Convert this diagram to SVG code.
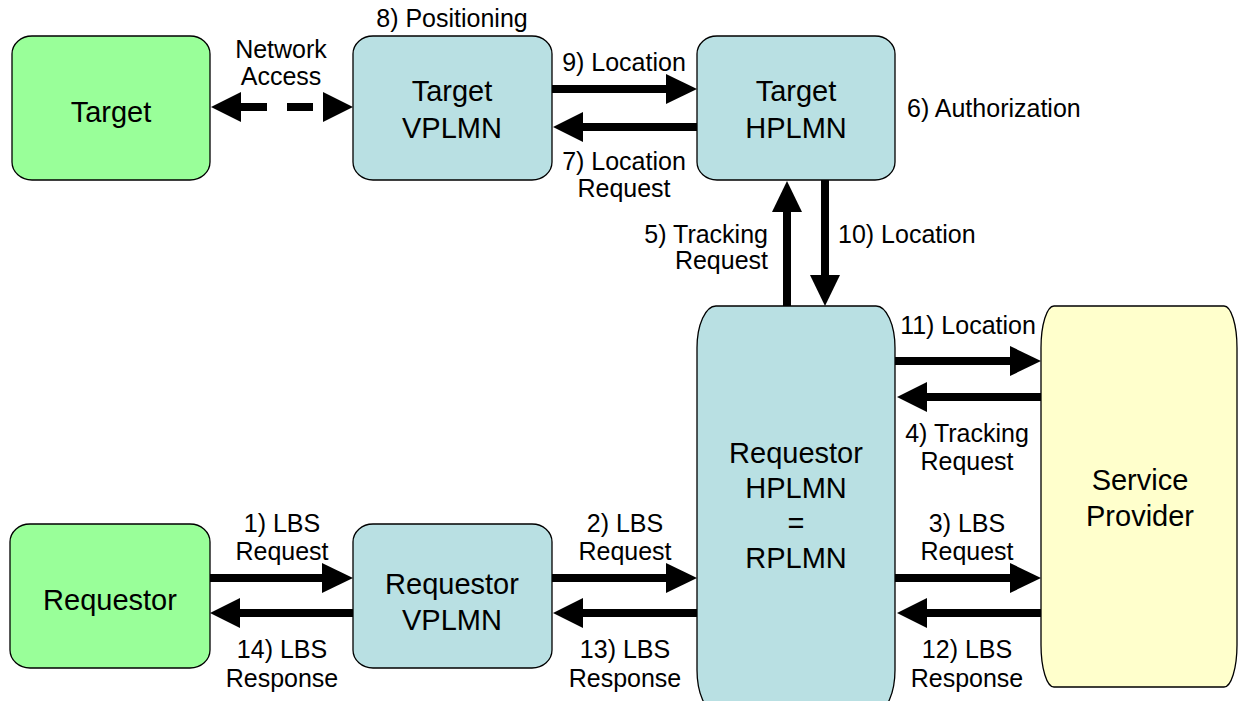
<svg xmlns="http://www.w3.org/2000/svg" width="1238" height="701" viewBox="0 0 1238 701">
  <defs>
    <style>
      .node { stroke: #000; stroke-width: 1.3; }
      .green { fill: #99FF99; }
      .blue { fill: #B9E0E3; }
      .yellow { fill: #FFFFCC; }
      .ntext { font-family: "Liberation Sans", Arial, sans-serif; font-size: 29px; fill: #000; text-anchor: middle; }
      .ltext { font-family: "Liberation Sans", Arial, sans-serif; font-size: 25px; fill: #000; }
      .mid { text-anchor: middle; }
      .end { text-anchor: end; }
      .shaft { stroke: #000; stroke-width: 8; fill: none; }
      .dash { stroke: #000; stroke-width: 8; fill: none; stroke-dasharray: 26 20; }
      .head { fill: #000; }
    </style>
  </defs>

  <!-- Nodes -->
  <g id="target">
    <path class="node green" d="M32,36 H190 A20,18 0 0 1 210,54 V162 A20,18 0 0 1 190,180 H32 A20,18 0 0 1 12,162 V54 A20,18 0 0 1 32,36 Z"/>
    <text class="ntext" x="111" y="122">Target</text>
  </g>
  <g id="target-vplmn">
    <path class="node blue" d="M373,36 H532 A20,18 0 0 1 552,54 V162 A20,18 0 0 1 532,180 H373 A20,18 0 0 1 353,162 V54 A20,18 0 0 1 373,36 Z"/>
    <text class="ntext" x="452" y="101">Target</text>
    <text class="ntext" x="452" y="138">VPLMN</text>
  </g>
  <g id="target-hplmn">
    <path class="node blue" d="M717,36 H875 A20,18 0 0 1 895,54 V162 A20,18 0 0 1 875,180 H717 A20,18 0 0 1 697,162 V54 A20,18 0 0 1 717,36 Z"/>
    <text class="ntext" x="796" y="101">Target</text>
    <text class="ntext" x="796" y="138">HPLMN</text>
  </g>
  <g id="requestor-hplmn">
    <path class="node blue" d="M716,306 H876 A19,42 0 0 1 895,348 V670 A19,42 0 0 1 876,712 H716 A19,42 0 0 1 697,670 V348 A19,42 0 0 1 716,306 Z"/>
    <text class="ntext" x="796" y="463">Requestor</text>
    <text class="ntext" x="796" y="498">HPLMN</text>
    <text class="ntext" x="796" y="533">=</text>
    <text class="ntext" x="796" y="568">RPLMN</text>
  </g>
  <g id="service-provider">
    <path class="node yellow" d="M1054,306 H1224 A13,42 0 0 1 1237,348 V645 A13,42 0 0 1 1224,687 H1054 A13,42 0 0 1 1041,645 V348 A13,42 0 0 1 1054,306 Z"/>
    <text class="ntext" x="1140" y="490">Service</text>
    <text class="ntext" x="1140" y="526">Provider</text>
  </g>
  <g id="requestor">
    <path class="node green" d="M30,524 H190 A20,18 0 0 1 210,542 V650 A20,18 0 0 1 190,668 H30 A20,18 0 0 1 10,650 V542 A20,18 0 0 1 30,524 Z"/>
    <text class="ntext" x="110" y="610">Requestor</text>
  </g>
  <g id="requestor-vplmn">
    <path class="node blue" d="M373,524 H532 A20,18 0 0 1 552,542 V650 A20,18 0 0 1 532,668 H373 A20,18 0 0 1 353,650 V542 A20,18 0 0 1 373,524 Z"/>
    <text class="ntext" x="452" y="594">Requestor</text>
    <text class="ntext" x="452" y="630">VPLMN</text>
  </g>

  <!-- Connectors -->
  <g id="connectors">
    <!-- Network access (dashed, both ways) -->
    <line class="dash" x1="241" y1="107" x2="323" y2="107"/>
    <polygon class="head" points="211,107 241,92 241,122"/>
    <polygon class="head" points="353,107 323,92 323,122"/>

    <!-- 9) Location -->
    <line class="shaft" x1="552" y1="89" x2="668" y2="89"/>
    <polygon class="head" points="697,89 666,74 666,104"/>
    <!-- 7) Location Request -->
    <line class="shaft" x1="697" y1="127" x2="581" y2="127"/>
    <polygon class="head" points="553,127 583,112 583,142"/>

    <!-- 5) Tracking Request -->
    <line class="shaft" x1="787" y1="306" x2="787" y2="210"/>
    <polygon class="head" points="787,181 772,212 802,212"/>
    <!-- 10) Location -->
    <line class="shaft" x1="825" y1="180" x2="825" y2="277"/>
    <polygon class="head" points="825,306 810,275 840,275"/>

    <!-- 11) Location -->
    <line class="shaft" x1="895" y1="361" x2="1012" y2="361"/>
    <polygon class="head" points="1041,361 1010,346 1010,376"/>
    <!-- 4) Tracking Request -->
    <line class="shaft" x1="1041" y1="397" x2="925" y2="397"/>
    <polygon class="head" points="897,397 927,382 927,412"/>
    <!-- 3) LBS Request -->
    <line class="shaft" x1="895" y1="578" x2="1012" y2="578"/>
    <polygon class="head" points="1041,578 1010,563 1010,593"/>
    <!-- 12) LBS Response -->
    <line class="shaft" x1="1041" y1="613" x2="925" y2="613"/>
    <polygon class="head" points="897,613 927,598 927,628"/>

    <!-- 2) LBS Request -->
    <line class="shaft" x1="552" y1="578" x2="668" y2="578"/>
    <polygon class="head" points="697,578 666,563 666,593"/>
    <!-- 13) LBS Response -->
    <line class="shaft" x1="697" y1="613" x2="581" y2="613"/>
    <polygon class="head" points="553,613 583,598 583,628"/>

    <!-- 1) LBS Request -->
    <line class="shaft" x1="210" y1="578" x2="325" y2="578"/>
    <polygon class="head" points="353,578 322,563 322,593"/>
    <!-- 14) LBS Response -->
    <line class="shaft" x1="353" y1="613" x2="238" y2="613"/>
    <polygon class="head" points="210,613 240,598 240,628"/>
  </g>

  <!-- Connector labels -->
  <g id="labels">
    <text class="ltext mid" x="281" y="58">Network</text>
    <text class="ltext mid" x="281" y="85">Access</text>
    <text class="ltext mid" x="452" y="27">8) Positioning</text>
    <text class="ltext mid" x="624" y="71">9) Location</text>
    <text class="ltext mid" x="624" y="170">7) Location</text>
    <text class="ltext mid" x="624" y="197">Request</text>
    <text class="ltext" x="907" y="117">6) Authorization</text>
    <text class="ltext end" x="768" y="243">5) Tracking</text>
    <text class="ltext end" x="768" y="269">Request</text>
    <text class="ltext" x="838" y="243">10) Location</text>
    <text class="ltext mid" x="968" y="334">11) Location</text>
    <text class="ltext mid" x="967" y="442">4) Tracking</text>
    <text class="ltext mid" x="967" y="470">Request</text>
    <text class="ltext mid" x="967" y="532">3) LBS</text>
    <text class="ltext mid" x="967" y="560">Request</text>
    <text class="ltext mid" x="967" y="658">12) LBS</text>
    <text class="ltext mid" x="967" y="687">Response</text>
    <text class="ltext mid" x="282" y="532">1) LBS</text>
    <text class="ltext mid" x="282" y="560">Request</text>
    <text class="ltext mid" x="282" y="658">14) LBS</text>
    <text class="ltext mid" x="282" y="687">Response</text>
    <text class="ltext mid" x="625" y="532">2) LBS</text>
    <text class="ltext mid" x="625" y="560">Request</text>
    <text class="ltext mid" x="625" y="658">13) LBS</text>
    <text class="ltext mid" x="625" y="687">Response</text>
  </g>
</svg>
